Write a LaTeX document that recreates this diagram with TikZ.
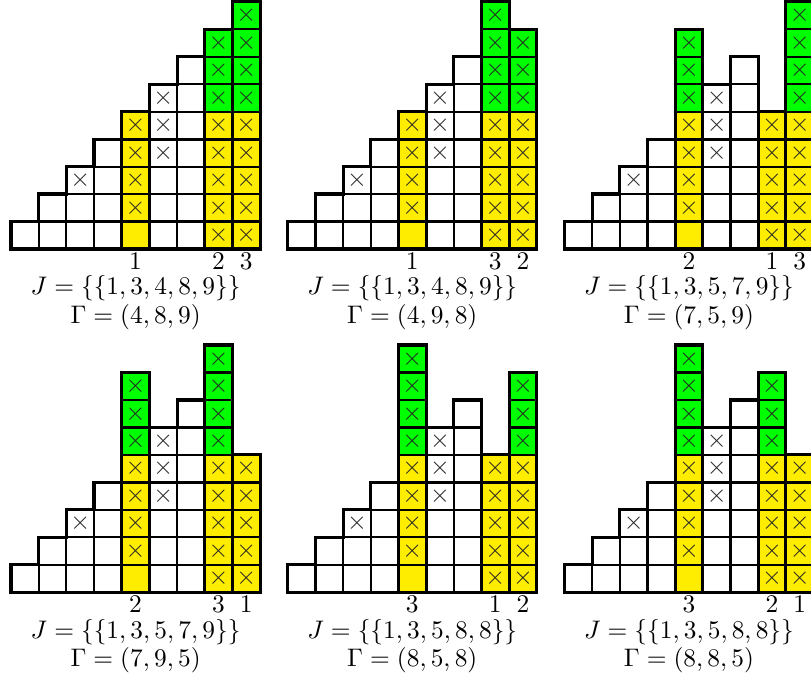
\documentclass[tikz,border=0pt]{standalone}
\usepackage{xcolor}
\usepackage{tikz}
\usetikzlibrary{positioning}
\definecolor{cellyellow}{rgb}{1.0,0.93,0.0}
\definecolor{cellgreen}{rgb}{0.0,1.0,0.0}

% one staircase panel: #1 name prefix, #2-#4 heights of columns 5, 8, 9,
% #5-#7 their labels, #8 the entries of J, #9 the entries of Gamma
\newcommand{\drawpanel}[9]{%
    % plain columns
    \foreach \c in {1,2,3,4,6,7} {
        \foreach \r in {1,...,\c} {
            \draw[cell] (\c-1,\r-1) rectangle ++(1,1);
        }
    }
    % marked columns: yellow up to row 5, green above
    \foreach \c/\h in {5/#2, 8/#3, 9/#4} {
        \foreach \r in {1,...,\h} {
            \ifnum\r>5 \def\fillc{cellgreen}\else\def\fillc{cellyellow}\fi
            \draw[cell, fill=\fillc] (\c-1,\r-1) rectangle ++(1,1);
        }
    }
    % thick lines
    \draw[bold] (0,0) -- (0,1) -| (1,2) -| (2,3) -| (3,4) -| (4,#2) -| (5,6)
        -| (6,7) -| (7,#3) -| (8,#4) -| (9,0) -- cycle;
    \draw[bold] (3,4) -- (9,4);
    \foreach \c/\h in {5/#2, 8/#3, 9/#4} {
        \draw[bold] (\c-1,0) rectangle (\c,\h);
    }
    % crosses
    \foreach \c/\r in {3/3, 6/4, 6/5, 6/6} {
        \node[crossx] (#1x\c\r) at (\c-0.5,\r-0.5) {$\times$};
    }
    \foreach \c/\h in {5/#2, 8/#3, 9/#4} {
        \foreach \r in {1,...,\h} {
            \ifnum\c\r=51 \else
                \node[crossx] (#1x\c\r) at (\c-0.5,\r-0.5) {$\times$};
            \fi
        }
    }
    % labels
    \node[lbl] (#1a) at (4.5,-0.75) {$#5$};
    \node[lbl] (#1b) at (7.5,-0.75) {$#6$};
    \node[lbl] (#1c) at (8.5,-0.75) {$#7$};
    \node[lbl] (#1J) at (4.5,-1.67) {$J=\{\{#8\}\}$};
    \node[lbl] (#1G) at (4.5,-2.72) {$\Gamma=(#9)$};
}

\begin{document}
\begin{tikzpicture}[
    x=0.383cm, y=0.380cm,
    cell/.style={draw=black, line width=0.85pt, fill=white},
    bold/.style={draw=black, line width=1.25pt, line join=miter},
    crossx/.style={inner sep=0pt, text=black!85},
    lbl/.style={anchor=base, inner sep=0pt}
]
    \useasboundingbox (-0.4,-15.71) rectangle (28.91,9.07);

    % Top row
    \drawpanel{p1}{5}{8}{9}{1}{2}{3}{1,3,4,8,9}{4,8,9}
    \begin{scope}[shift={(10,0)}]
        \drawpanel{p2}{5}{9}{8}{1}{3}{2}{1,3,4,8,9}{4,9,8}
    \end{scope}
    \begin{scope}[shift={(20,0)}]
        \drawpanel{p3}{8}{5}{9}{2}{1}{3}{1,3,5,7,9}{7,5,9}
    \end{scope}

    % Bottom row
    \begin{scope}[shift={(0,-12.5)}]
        \drawpanel{p4}{8}{9}{5}{2}{3}{1}{1,3,5,7,9}{7,9,5}
    \end{scope}
    \begin{scope}[shift={(10,-12.5)}]
        \drawpanel{p5}{9}{5}{8}{3}{1}{2}{1,3,5,8,8}{8,5,8}
    \end{scope}
    \begin{scope}[shift={(20,-12.5)}]
        \drawpanel{p6}{9}{8}{5}{3}{2}{1}{1,3,5,8,8}{8,8,5}
    \end{scope}
\end{tikzpicture}
\end{document}
